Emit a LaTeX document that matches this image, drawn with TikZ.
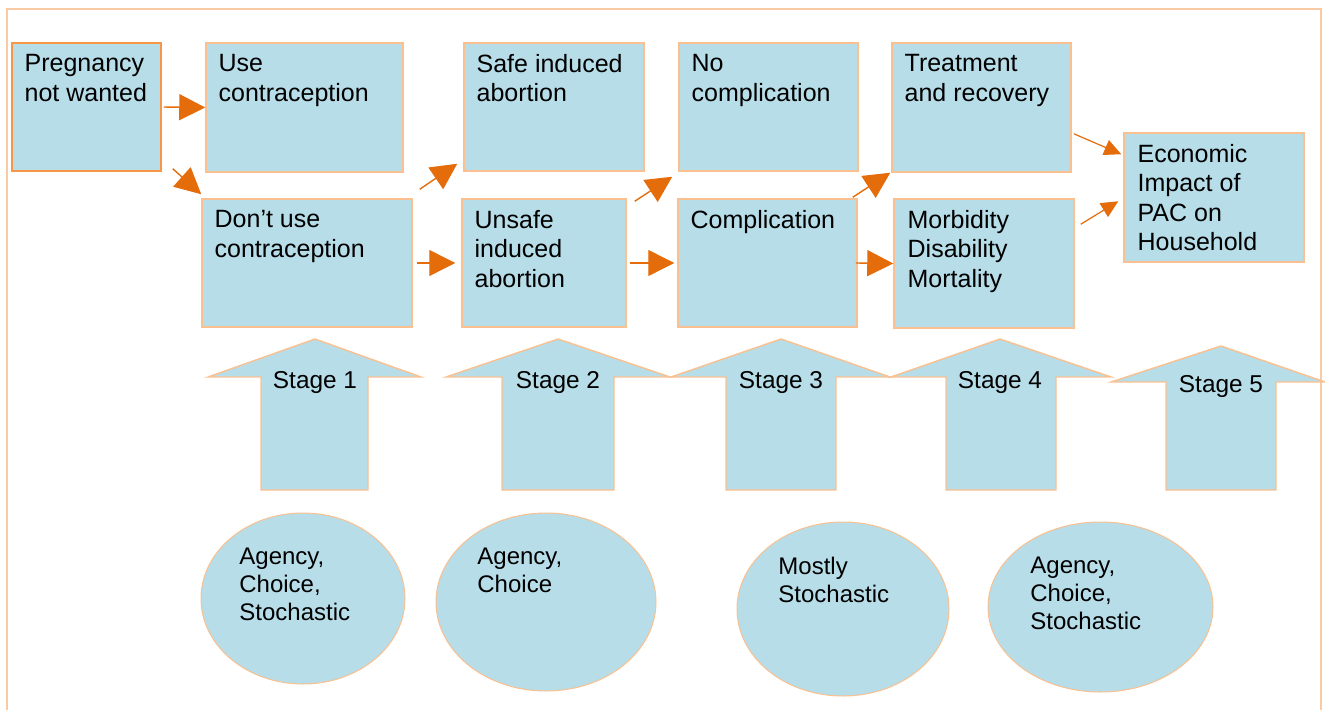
\documentclass[tikz,border=0pt]{standalone}
\usepackage{fontspec}
\setmainfont{Liberation Sans}
\usetikzlibrary{arrows.meta, shapes.geometric, fit}

\definecolor{boxfill}{HTML}{B7DDE8}
\definecolor{boxline}{HTML}{FAC08F}
\definecolor{pregline}{HTML}{F79646}
\definecolor{flowcol}{HTML}{E46C0A}
\definecolor{framecol}{HTML}{F9CBA5}

\begin{document}
\begin{tikzpicture}[x=0.5pt, y=-0.5pt, line join=miter,
  box/.style={draw=boxline, fill=boxfill, line width=0.75pt, inner sep=0pt},
  txt/.style={anchor=north west, inner sep=0pt, align=left, font=\fontsize{12.5}{14.6}\selectfont},
  oval/.style={ellipse, draw=boxline, fill=boxfill, line width=0.5pt, inner sep=0pt},
  ovaltxt/.style={anchor=north west, inner sep=0pt, align=left, font=\fontsize{12}{13.8}\selectfont},
  stagearrow/.style={draw=boxline, fill=boxfill, line width=0.7pt},
  stagelbl/.style={anchor=base, inner sep=0pt, font=\fontsize{12.2}{14}\selectfont},
  flow/.style={draw=flowcol, line width=0.7pt, -{Triangle[length=13pt, width=13pt]}},
  flowsmall/.style={draw=flowcol, line width=0.6pt, -{Triangle[length=8.5pt, width=8pt]}}]
\useasboundingbox (0,0) rectangle (1325,710);

% outer frame
\draw[framecol, line width=1pt] (7,720) -- (7,9) -- (1321,9) -- (1321,720);

% decision boxes
\node[box, draw=pregline, fit={(12,43) (161,171)}] (preg) {};
\node[box, fit={(206,43) (403,172)}] (usec) {};
\node[box, fit={(202,199) (412,327)}] (dont) {};
\node[box, fit={(464,43) (644,171)}] (safe) {};
\node[box, fit={(462,199) (626,327)}] (unsafe) {};
\node[box, fit={(679,43) (858,171)}] (nocomp) {};
\node[box, fit={(678,199) (857,327)}] (comp) {};
\node[box, fit={(892,43) (1071,172)}] (treat) {};
\node[box, fit={(894,199) (1074,328)}] (morb) {};
\node[box, fit={(1124,133) (1304,262)}] (econ) {};

\node[txt] at ([shift={(13,12)}]preg.north west) {Pregnancy\\not wanted};
\node[txt] at ([shift={(13,12)}]usec.north west) {Use\\contraception};
\node[txt] at ([shift={(13,12)}]dont.north west) {Don’t use\\contraception};
\node[txt] at ([shift={(13,12)}]safe.north west) {Safe induced\\abortion};
\node[txt] at ([shift={(13,12)}]unsafe.north west) {Unsafe\\induced\\abortion};
\node[txt] at ([shift={(13,12)}]nocomp.north west) {No\\complication};
\node[txt] at ([shift={(13,12)}]comp.north west) {Complication};
\node[txt] at ([shift={(13,12)}]treat.north west) {Treatment\\and recovery};
\node[txt] at ([shift={(14,12)}]morb.north west) {Morbidity\\Disability\\Mortality};
\node[txt] at ([shift={(14,12)}]econ.north west) {Economic\\Impact of\\PAC on\\Household};

% flows between boxes
\draw[flow, shorten <=1pt] (preg.east) -- (usec.west);
\draw[flow] ([shift={(11,-3)}]preg.south east) -- ([shift={(0,-4)}]dont.north west);
\draw[flow] ([shift={(7,-9)}]dont.north east) -- ([shift={(-6,-8)}]safe.south west);
\draw[flow, shorten <=2pt, shorten >=3pt] (dont.east) -- (unsafe.west);
\draw[flow] ([shift={(8,3)}]unsafe.north east) -- ([shift={(-6,5)}]nocomp.south west);
\draw[flow, shorten <=1.5pt, shorten >=1.5pt] (unsafe.east) -- (comp.west);
\draw[flow] ([shift={(-5,-1)}]comp.north east) -- ([shift={(-1,0)}]treat.south west);
\draw[flow] ([shift={(-2,0)}]comp.east) -- (morb.west);
\draw[flowsmall] ([shift={(2,-39)}]treat.south east) -- ([shift={(-2,22)}]econ.north west);
\draw[flowsmall] ([shift={(6,26)}]morb.north east) -- ([shift={(-5,69)}]econ.north west);

% stage arrows
\foreach \i/\tx/\ty/\hl/\hr/\sl/\sr/\hb in {
  1/315/339/208/421/261/368/377,
  2/558/339/446/670/502/614/377,
  3/781/339/671/890/726/836/377,
  4/1000/339/891/1111/946/1056/377,
  5/1221/346/1111/1325/1166/1276/382}
{
  \draw[stagearrow] (\tx,\ty) -- (\hr,\hb) -- (\sr,\hb) -- (\sr,490) -- (\sl,490) -- (\sl,\hb) -- (\hl,\hb) -- cycle;
  \node[stagelbl] (stage\i) at (\tx,\hb+11) {Stage \i};
}

% drivers of each stage
\node[oval, minimum width=102pt, minimum height=85.5pt] (drv1) at (303,598.5) {};
\node[oval, minimum width=110pt, minimum height=89pt] (drv2) at (546,602) {};
\node[oval, minimum width=106pt, minimum height=87pt] (drv3) at (843,609) {};
\node[oval, minimum width=112.5pt, minimum height=85pt] (drv4) at (1100.5,607) {};

\node[ovaltxt] at (239,548) {Agency,\\Choice,\\Stochastic};
\node[ovaltxt] at (477,548) {Agency,\\Choice};
\node[ovaltxt] at (778,557) {Mostly\\Stochastic};
\node[ovaltxt] at (1030,557) {Agency,\\Choice,\\Stochastic};
\end{tikzpicture}
\end{document}
